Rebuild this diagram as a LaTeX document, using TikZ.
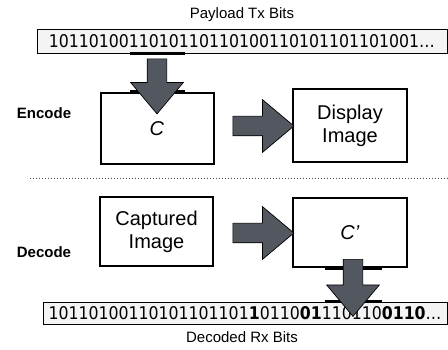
\documentclass[tikz,border=0pt]{standalone}
\usepackage{fontspec}
\setmainfont{Liberation Sans}
\newfontfamily\bitsfont{DejaVu Sans Condensed}
\usetikzlibrary{shapes.arrows,calc}

\definecolor{arrowgray}{RGB}{82,87,96}
\definecolor{bitsgray}{RGB}{244,244,244}

\tikzstyle{block}    = [rectangle, draw, line width=2pt
                       , minimum width=113pt, minimum height=71pt
                       , align=center, inner sep=0pt
                       , font=\fontsize{20}{23}\selectfont]
\tikzstyle{bits}     = [rectangle, draw, fill=bitsgray, line width=0.9pt
                       , inner sep=0pt, font=\bitsfont\fontsize{17.5}{20}\selectfont]
\tikzstyle{caption}  = [font=\fontsize{15}{18}\selectfont]
\tikzstyle{stage}    = [font=\bfseries\fontsize{15}{18}\selectfont]
\tikzstyle{bigarrow} = [single arrow, draw=black, fill=arrowgray, line width=0.7pt
                       , inner xsep=0pt, inner ysep=9.5pt
                       , single arrow head extend=16.5pt
                       , single arrow tip angle=80]
\tikzstyle{tab}      = [line width=3.5pt]
\tikzstyle{split}    = [line width=0.8pt, black!70, dash pattern=on 0.8pt off 2.2pt]

\begin{document}
\begin{tikzpicture}[x=1pt, y=-1pt]
\useasboundingbox (0,0) rectangle (448,350);

%% Payload bits
\node [caption] (Tx-Label) at (242,15) {Payload Tx Bits};
\node [bits, minimum width=410pt, minimum height=24pt] (Tx-Bits) at (242,41)
  {1011010011010110110100110101101101001\dots};

%% Encode row
\node [stage] (Enc-Label) at (44,113) {Encode};
\node [block] (Enc-Code) at (157,128.5) {\textit{C}};
\node [block, minimum width=114pt, minimum height=73pt] (Enc-Display) at (350,125.5) {Display\\Image};

%% Separator
\coordinate (Split-W) at (30,178);
\coordinate (Split-E) at (448,178);
\draw [split] (Split-W) -- (Split-E);

%% Decode row
\node [stage] (Dec-Label) at (44,252) {Decode};
\node [block, minimum height=69pt] (Dec-Captured) at (156.5,231.5) {Captured\\Image};
\node [block, minimum width=114pt, minimum height=69pt] (Dec-Code) at (350,232.5) {\textit{C’}};

%% Decoded bits
\node [bits, minimum width=404pt, minimum height=22pt] (Rx-Bits) at (245,313)
  {10110100110101101101\textbf{1}0110\textbf{01}110110\textbf{0110}\dots};
\node [caption] (Rx-Label) at (242,337) {Decoded Rx Bits};

%% Tabs where the arrows cross the boxes
\coordinate (Enc-In-X) at (157,0);
\coordinate (Dec-Out-X) at (353,0);
\draw [tab] ($(Tx-Bits.south -| Enc-In-X)+(-27.5pt,0)$) -- ($(Tx-Bits.south -| Enc-In-X)+(27.5pt,0)$);
\draw [tab] ($(Enc-Code.north -| Enc-In-X)+(-27.5pt,0)$) -- ($(Enc-Code.north -| Enc-In-X)+(27.5pt,0)$);
\draw [tab] ($(Dec-Code.south -| Dec-Out-X)+(-28.5pt,0)$) -- ($(Dec-Code.south -| Dec-Out-X)+(28.5pt,0)$);
\draw [tab] ($(Rx-Bits.north -| Dec-Out-X)+(-28.5pt,0)$) -- ($(Rx-Bits.north -| Dec-Out-X)+(28.5pt,0)$);

%% Block arrows
\node [bigarrow, minimum height=55pt, rotate=-90] (Enc-In) at (Enc-In-X |- 0,80.5) {};
\node [bigarrow, minimum height=61pt] (Enc-Out) at (257.5,126) {};
\node [bigarrow, minimum height=61pt] (Dec-Mid) at (257.5,233) {};
\node [bigarrow, minimum height=57pt, rotate=-90] (Dec-Out) at (Dec-Out-X |- 0,282) {};

\end{tikzpicture}
\end{document}
